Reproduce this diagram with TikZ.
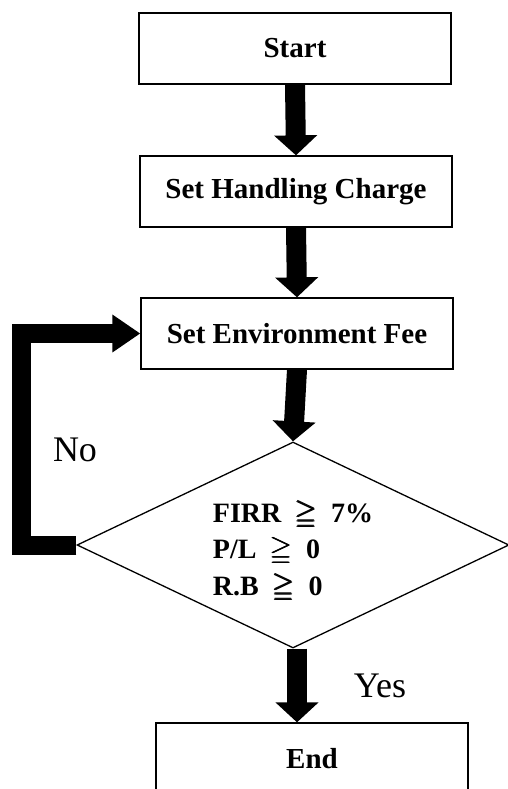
\documentclass[tikz,border=0pt]{standalone}
\usepackage{fontspec}
\usepackage{amsmath,amssymb}
\setmainfont{Liberation Serif}
\usetikzlibrary{shapes.geometric,arrows.meta,positioning,calc}
\tikzset{
  procbox/.style={
    draw,
    line width = 1.3pt,
    minimum width = 312pt,
    minimum height = 71pt,
    inner sep = 0pt,
    font = \fontsize{29}{32}\selectfont\bfseries
  },
  decision/.style={
    shape = diamond,
    draw,
    line width = 1.3pt,
    aspect = 2.1,
    minimum width = 432pt,
    minimum height = 206pt,
    inner sep = 0pt,
    align = left,
    font = \fontsize{28}{36.5}\selectfont\bfseries
  },
  flow/.style={
    line width = 20pt,
    -{Triangle[length=20pt,width=42pt]}
  },
  loopback/.style={
    line width = 19pt,
    line join = miter,
    -{Triangle[length=28pt,width=36pt]}
  },
  answer/.style={
    font = \fontsize{36}{40}\selectfont
  }
}
\newcommand{\gq}{\enspace$\pmb{\geqq}$\enspace}
\begin{document}
\begin{tikzpicture}[x=1pt,y=-1pt]
  \useasboundingbox (0,0) rectangle (508,789);
  % boxes
  \node[procbox] (start) at (295,48.5) {Start};
  \node[procbox] (handling) at (296,191.5) {Set Handling Charge};
  \node[procbox] (env) at (297,333.5) {Set Environment Fee};
  \node[decision] (dec) at (293,545) {\rule{0pt}{35pt}FIRR\gq7\%\\P/L\gq0\\R.B\gq0};
  \node[procbox] (finish) at (312,758.5) {End};
  % labels
  \node[answer] (no) at (75,450) {No};
  \node[answer] (yes) at (380,686) {Yes};
  % arrows
  \draw[flow] (start.south) -- (handling.north);
  \draw[flow] (handling.south) -- (env.north);
  \draw[flow] (env.south) -- (dec.north);
  \draw[flow] ([xshift=4pt]dec.south) -- ([xshift=4pt]dec.south |- finish.north);
  \draw[loopback] (dec.west) -- ++(-55,0) |- (env.west);
\end{tikzpicture}
\end{document}
